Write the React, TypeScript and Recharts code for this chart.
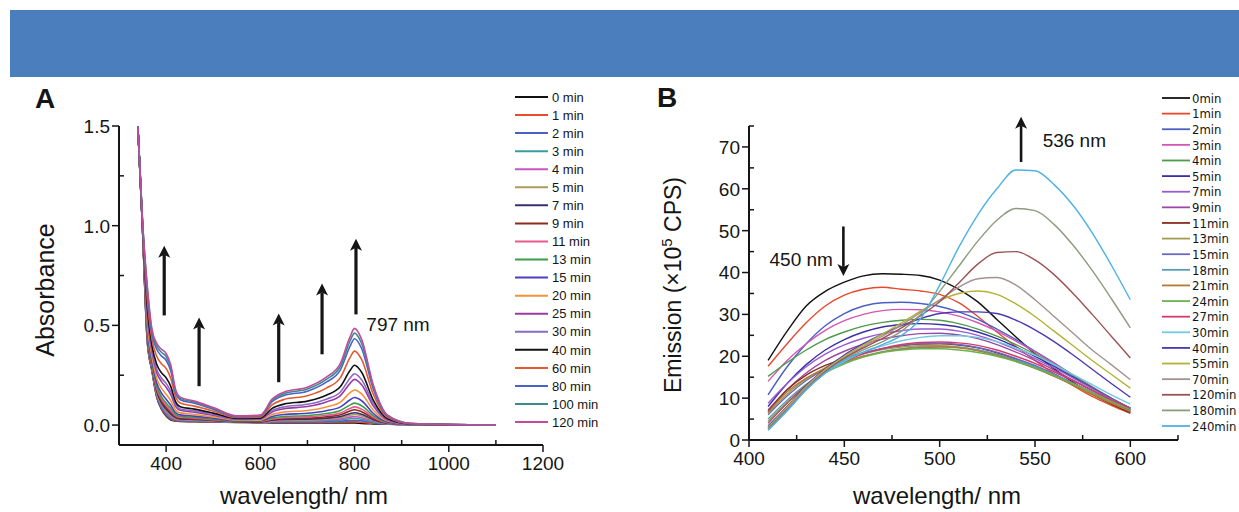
import { LineChart, Line, XAxis, YAxis, ReferenceLine, ReferenceDot } from 'recharts'

const FONT = '"Liberation Sans", Arial, Helvetica, sans-serif'
const NARROW = '"Liberation Sans Narrow", "Arial Narrow", "DejaVu Sans Condensed", "Liberation Sans", sans-serif'
const INK = '#151515'

// ---- panel A: absorbance ----
const absWavelength = [340, 350, 360, 370, 380, 390, 400, 410, 420, 430, 460, 500, 550, 600, 625, 650, 700, 740, 770, 790, 800, 815, 840, 870, 920, 1100]

const absLabels = ['0 min', '1 min', '2 min', '3 min', '4 min', '5 min', '7 min', '9 min', '11 min', '13 min', '15 min', '20 min', '25 min', '30 min', '40 min', '60 min', '80 min', '100 min', '120 min']

const absColors = ['#111111', '#ea4b2c', '#4b5fc4', '#3a9c9c', '#c856c2', '#a89d5c', '#3b2f72', '#8c2b1a', '#ea5b8d', '#3b9c4c', '#4a3fc4', '#f2953a', '#9a3aa4', '#8a6ac4', '#111111', '#e35a30', '#4b62c6', '#3a8c8c', '#c24a9c']

const absValues: number[][] = [
  [1.5, 0.98, 0.42, 0.27, 0.14, 0.08, 0.045, 0.025, 0.02, 0.018, 0.017, 0.015, 0.013, 0.012, 0.011, 0.011, 0.01, 0.01, 0.01, 0.01, 0.01, 0.008, 0.006, 0.004, 0.002, 0],
  [1.5, 0.981, 0.424, 0.273, 0.144, 0.085, 0.05, 0.029, 0.022, 0.02, 0.018, 0.016, 0.014, 0.013, 0.013, 0.013, 0.013, 0.014, 0.015, 0.017, 0.017, 0.014, 0.009, 0.005, 0.002, 0],
  [1.5, 0.981, 0.428, 0.276, 0.148, 0.089, 0.055, 0.033, 0.025, 0.022, 0.02, 0.017, 0.014, 0.013, 0.015, 0.016, 0.015, 0.017, 0.019, 0.023, 0.024, 0.021, 0.012, 0.005, 0.002, 0],
  [1.5, 0.982, 0.434, 0.281, 0.154, 0.095, 0.061, 0.039, 0.028, 0.024, 0.022, 0.019, 0.015, 0.014, 0.017, 0.019, 0.019, 0.022, 0.025, 0.032, 0.034, 0.029, 0.016, 0.006, 0.002, 0],
  [1.5, 0.983, 0.44, 0.285, 0.159, 0.101, 0.067, 0.044, 0.031, 0.027, 0.024, 0.02, 0.015, 0.015, 0.019, 0.022, 0.023, 0.026, 0.031, 0.04, 0.043, 0.037, 0.02, 0.007, 0.002, 0],
  [1.5, 0.984, 0.445, 0.289, 0.164, 0.107, 0.073, 0.05, 0.034, 0.029, 0.026, 0.022, 0.016, 0.015, 0.022, 0.025, 0.026, 0.031, 0.037, 0.049, 0.053, 0.046, 0.024, 0.008, 0.003, 0],
  [1.5, 0.984, 0.451, 0.293, 0.17, 0.113, 0.08, 0.055, 0.038, 0.031, 0.028, 0.023, 0.017, 0.016, 0.024, 0.028, 0.03, 0.035, 0.043, 0.057, 0.062, 0.054, 0.027, 0.009, 0.003, 0],
  [1.5, 0.986, 0.459, 0.299, 0.178, 0.122, 0.089, 0.064, 0.042, 0.035, 0.031, 0.025, 0.018, 0.017, 0.028, 0.033, 0.035, 0.042, 0.052, 0.07, 0.077, 0.067, 0.033, 0.01, 0.003, 0],
  [1.5, 0.987, 0.468, 0.306, 0.186, 0.131, 0.099, 0.072, 0.047, 0.039, 0.035, 0.027, 0.019, 0.019, 0.031, 0.037, 0.041, 0.049, 0.061, 0.083, 0.091, 0.08, 0.039, 0.012, 0.003, 0],
  [1.5, 0.988, 0.479, 0.314, 0.197, 0.143, 0.111, 0.083, 0.054, 0.044, 0.039, 0.03, 0.02, 0.02, 0.036, 0.043, 0.048, 0.058, 0.073, 0.1, 0.11, 0.097, 0.047, 0.014, 0.003, 0],
  [1.5, 0.991, 0.496, 0.327, 0.213, 0.161, 0.13, 0.099, 0.063, 0.051, 0.045, 0.035, 0.022, 0.022, 0.043, 0.053, 0.059, 0.072, 0.091, 0.126, 0.138, 0.122, 0.058, 0.016, 0.004, 0],
  [1.5, 0.994, 0.518, 0.344, 0.235, 0.185, 0.155, 0.121, 0.076, 0.061, 0.053, 0.041, 0.025, 0.025, 0.053, 0.065, 0.073, 0.091, 0.115, 0.161, 0.176, 0.156, 0.074, 0.02, 0.004, 0],
  [1.5, 0.998, 0.549, 0.367, 0.264, 0.218, 0.19, 0.152, 0.094, 0.074, 0.064, 0.049, 0.028, 0.03, 0.066, 0.082, 0.093, 0.116, 0.148, 0.208, 0.229, 0.202, 0.095, 0.025, 0.005, 0],
  [1.5, 1.001, 0.566, 0.379, 0.28, 0.236, 0.209, 0.168, 0.103, 0.081, 0.071, 0.053, 0.03, 0.032, 0.073, 0.091, 0.104, 0.13, 0.166, 0.234, 0.257, 0.227, 0.107, 0.028, 0.005, 0],
  [1.5, 1.004, 0.591, 0.398, 0.305, 0.263, 0.237, 0.193, 0.118, 0.092, 0.08, 0.06, 0.033, 0.035, 0.084, 0.105, 0.12, 0.15, 0.193, 0.272, 0.3, 0.265, 0.124, 0.032, 0.006, 0],
  [1.5, 1.01, 0.633, 0.43, 0.345, 0.308, 0.284, 0.234, 0.142, 0.111, 0.095, 0.071, 0.038, 0.041, 0.101, 0.128, 0.147, 0.185, 0.238, 0.337, 0.371, 0.329, 0.153, 0.039, 0.007, 0],
  [1.5, 1.016, 0.669, 0.457, 0.38, 0.347, 0.325, 0.27, 0.162, 0.127, 0.109, 0.08, 0.042, 0.046, 0.117, 0.148, 0.17, 0.215, 0.277, 0.393, 0.433, 0.384, 0.179, 0.045, 0.007, 0],
  [1.5, 1.018, 0.686, 0.47, 0.397, 0.365, 0.344, 0.286, 0.172, 0.134, 0.115, 0.085, 0.044, 0.048, 0.124, 0.157, 0.181, 0.229, 0.295, 0.419, 0.461, 0.409, 0.19, 0.048, 0.008, 0],
  [1.5, 1.02, 0.7, 0.48, 0.41, 0.38, 0.36, 0.3, 0.18, 0.14, 0.12, 0.088, 0.046, 0.05, 0.13, 0.165, 0.19, 0.24, 0.31, 0.44, 0.485, 0.43, 0.2, 0.05, 0.008, 0],
]

const absXTicks = [300, 400, 500, 600, 700, 800, 900, 1000, 1100, 1200]
const absXMajor = [400, 600, 800, 1000, 1200]
const absYTicks = [0, 0.25, 0.5, 0.75, 1, 1.25, 1.5]
const absYMajor = [0, 0.5, 1, 1.5]

// arrows: [wavelength, from, to]
const absArrows = [
  [396, 0.55, 0.9],
  [470, 0.195, 0.54],
  [639, 0.215, 0.56],
  [731, 0.355, 0.71],
  [803, 0.555, 0.935],
]

// ---- panel B: emission ----
const emWavelength = [410, 420, 430, 440, 450, 460, 470, 480, 490, 500, 510, 520, 530, 540, 550, 560, 570, 580, 590, 600]

const emLabels = ['0min', '1min', '2min', '3min', '4min', '5min', '7min', '9min', '11min', '13min', '15min', '18min', '21min', '24min', '27min', '30min', '40min', '55min', '70min', '120min', '180min', '240min']

const emColors = ['#111111', '#e8482c', '#4a5fc4', '#d257b4', '#4d9c4a', '#3a2fa4', '#9a5ad2', '#9a4aa2', '#8c2a1c', '#a39c4c', '#6a6ac4', '#5a9cb4', '#b27a32', '#6cb24c', '#d23c6c', '#72cae2', '#4a3ab2', '#b4b232', '#a39292', '#9c5252', '#8c9c7c', '#4cb2e2']

const emValues: number[][] = [
  [19, 26, 32, 35.5, 37.7, 39.2, 39.7, 39.6, 39.3, 38.2, 36, 33, 28.8, 24.6, 20.6, 17, 13.8, 11, 8.7, 6.8],
  [17.6, 23, 28, 32, 34.6, 36, 36.5, 36, 35.6, 34.8, 32.8, 29.5, 25.8, 22.3, 19, 15.8, 13, 10.4, 8.3, 6.4],
  [10.8, 17.5, 23, 27.3, 30.2, 32, 32.8, 32.9, 32.6, 31.9, 30.6, 28.8, 26.5, 24, 21.2, 18.4, 15.5, 12.6, 9.9, 7.3],
  [14, 19, 23, 26.2, 28.5, 30, 30.9, 31.2, 31.1, 30.6, 29.6, 28, 26, 23.6, 21, 18.3, 15.5, 12.7, 10, 7.5],
  [15.2, 18.5, 21.5, 24, 25.8, 27.2, 28.1, 28.6, 28.8, 28.6, 27.8, 26.5, 24.8, 22.8, 20.5, 18, 15.3, 12.6, 10, 7.6],
  [8, 13.5, 18, 21.5, 24, 25.8, 27, 27.6, 27.8, 27.6, 27, 25.8, 24.2, 22.2, 20, 17.6, 15, 12.4, 9.9, 7.6],
  [8.8, 13.5, 17.5, 20.5, 22.7, 24.3, 25.4, 26.1, 26.5, 26.5, 26, 25, 23.5, 21.6, 19.5, 17.2, 14.8, 12.3, 9.8, 7.5],
  [7.2, 12, 16, 19, 21.2, 22.9, 24.1, 24.9, 25.4, 25.5, 25.1, 24.2, 22.8, 21, 19, 16.7, 14.3, 11.9, 9.5, 7.3],
  [6.8, 12, 15.5, 17.8, 19.5, 20.8, 21.8, 22.5, 22.9, 23, 22.7, 22, 20.8, 19.3, 17.5, 15.4, 13.2, 10.9, 8.6, 6.4],
  [6.4, 11, 14.6, 17.3, 19.2, 20.6, 21.6, 22.2, 22.5, 22.5, 22.2, 21.5, 20.4, 19, 17.3, 15.3, 13.2, 11, 8.9, 6.9],
  [6, 10.5, 14.2, 17, 19.1, 20.7, 21.8, 22.6, 23, 23.1, 22.8, 22.1, 21, 19.5, 17.8, 15.8, 13.6, 11.4, 9.2, 7.1],
  [5, 9.5, 13.3, 16.2, 18.4, 20, 21.1, 21.8, 22.2, 22.3, 22.1, 21.5, 20.5, 19.1, 17.5, 15.6, 13.5, 11.4, 9.3, 7.4],
  [6.6, 11.5, 14.8, 17, 18.7, 20, 21, 21.7, 22.1, 22.2, 22, 21.3, 20.2, 18.8, 17.1, 15.2, 13.1, 10.9, 8.8, 6.8],
  [4.5, 9, 13, 16, 18.2, 19.8, 20.9, 21.5, 21.8, 21.8, 21.5, 20.9, 20, 18.7, 17.2, 15.4, 13.4, 11.3, 9.2, 7.3],
  [4, 8.8, 13, 16.3, 18.8, 20.6, 21.9, 22.8, 23.3, 23.4, 23.2, 22.6, 21.5, 20, 18.3, 16.3, 14.1, 11.8, 9.6, 7.6],
  [3.5, 8, 12.5, 16, 18.8, 21, 22.5, 23.7, 24.5, 24.9, 24.9, 24.5, 23.5, 22, 20.2, 18, 15.6, 13.2, 10.8, 8.6],
  [3.2, 8, 13, 17, 20.3, 23, 25.3, 27.3, 29, 30.2, 30.6, 30.6, 30.2, 28.6, 26.3, 23.5, 20.3, 16.9, 13.5, 10.2],
  [3, 7.8, 12.8, 16.8, 20, 22.7, 25.3, 28, 30.8, 33.3, 35, 35.6, 34.8, 32.5, 29.5, 26, 22.5, 19, 15.7, 12.4],
  [2.8, 7.5, 12.5, 16.5, 19.7, 22.3, 24.8, 27.5, 30.5, 33.5, 36.5, 38.5, 38.8, 37, 33.5, 29.5, 25.5, 21.5, 18, 14.4],
  [2.6, 7.2, 12.2, 16.3, 19.5, 22, 24.3, 26.8, 29.7, 33, 37.5, 42, 44.8, 45, 43, 39.5, 35, 30, 24.8, 19.6],
  [2.5, 7, 12, 16, 19.2, 21.5, 23.5, 26, 30, 35.5, 41.5, 47.5, 52.5, 55.3, 54.8, 51.5, 46.5, 40.5, 33.8, 26.8],
  [2.3, 7, 12, 16, 19, 21, 22.8, 25, 29, 37, 46, 53.8, 60, 64.5, 64.3, 61, 56, 49.5, 41.8, 33.5],
]

const emXTicks = [400, 425, 450, 475, 500, 525, 550, 575, 600, 625]
const emXMajor = [400, 450, 500, 550, 600]
const emYTicks = [0, 5, 10, 15, 20, 25, 30, 35, 40, 45, 50, 55, 60, 65, 70, 75]
const emYMajor = [0, 10, 20, 30, 40, 50, 60, 70]

const emArrows = [
  [449.5, 51, 39.2],
  [542.7, 66.4, 77.2],
]

// ---- helpers ----
const absRows = absWavelength.map((w, i) => {
  const row: Record<string, number> = { w }
  absValues.forEach((vals, k) => {
    row[`a${k}`] = vals[i]
  })
  return row
})

const emRows = emWavelength.map((w, i) => {
  const row: Record<string, number> = { w }
  emValues.forEach((vals, k) => {
    row[`e${k}`] = vals[i]
  })
  return row
})

const AXIS = { stroke: INK, strokeWidth: 2 }

function xTick(major: number[], fmt: (v: number) => string) {
  return (props: any) => {
    const { x, y, payload } = props
    const v = payload.value
    if (!major.includes(v)) {
      return <line x1={x} x2={x} y1={y} y2={y - 5} stroke={INK} strokeWidth={1.5} />
    }
    return (
      <g>
        <line x1={x} x2={x} y1={y} y2={y + 7} stroke={INK} strokeWidth={1.5} />
        <text x={x} y={y + 25} textAnchor="middle" fontSize={19} fontFamily={FONT} fill={INK}>
          {fmt(v)}
        </text>
      </g>
    )
  }
}

function yTick(major: number[], fmt: (v: number) => string) {
  return (props: any) => {
    const { x, y, payload } = props
    const v = payload.value
    if (!major.includes(v)) {
      return <line x1={x} x2={x + 5} y1={y} y2={y} stroke={INK} strokeWidth={1.5} />
    }
    return (
      <g>
        <line x1={x - 7} x2={x} y1={y} y2={y} stroke={INK} strokeWidth={1.5} />
        <text x={x - 9} y={y} dy="0.36em" textAnchor="end" fontSize={19} fontFamily={FONT} fill={INK}>
          {fmt(v)}
        </text>
      </g>
    )
  }
}

function Arrow(props: any) {
  const { x1, y1, x2, y2, width = 3 } = props
  const dir = y2 < y1 ? 1 : -1 // 1 = pointing up
  const head = 12
  const half = 6
  return (
    <g>
      <line x1={x1} x2={x2} y1={y1} y2={y2 + dir * (head - 3)} stroke={INK} strokeWidth={width} />
      <path
        d={`M${x2},${y2} L${x2 - half},${y2 + dir * head} L${x2},${y2 + dir * (head - 3)} L${x2 + half},${y2 + dir * head} Z`}
        fill={INK}
      />
    </g>
  )
}

const noteStyle = { fontSize: 19, fill: INK, fontFamily: FONT }

export default function App() {
  return (
    <div style={{ position: 'absolute', left: 0, top: 0, width: 1239, height: 512, background: '#fff', overflow: 'hidden' }}>
      <div style={{ position: 'absolute', left: 10, top: 10, width: 1229, height: 67, background: '#4a7ebd' }} />

      <div style={{ position: 'absolute', left: 0, top: 0 }}>
        <LineChart width={600} height={512} data={absRows} margin={{ top: 126, right: 57, bottom: 0, left: 0 }}>
          <XAxis
            dataKey="w"
            type="number"
            domain={[300, 1200]}
            allowDataOverflow
            ticks={absXTicks}
            interval={0}
            tickLine={false}
            tickSize={0}
            tickMargin={0}
            height={67}
            axisLine={AXIS}
            tick={xTick(absXMajor, (v) => String(v))}
          />
          <YAxis
            type="number"
            domain={[-0.1, 1.5]}
            allowDataOverflow
            ticks={absYTicks}
            interval={0}
            tickLine={false}
            tickSize={0}
            tickMargin={0}
            width={119}
            axisLine={AXIS}
            tick={yTick(absYMajor, (v) => v.toFixed(1))}
          />
          {absLabels.map((l, k) => (
            <Line
              key={l}
              type="monotone"
              dataKey={`a${k}`}
              name={l}
              stroke={absColors[k]}
              strokeWidth={1.6}
              dot={false}
              isAnimationActive={false}
            />
          ))}
          {absArrows.map(([w, from, to], i) => (
            <ReferenceLine
              key={i}
              segment={[{ x: w, y: from }, { x: w, y: to }]}
              ifOverflow="visible"
              shape={(p: any) => <Arrow {...p} width={3.2} />}
            />
          ))}
          <ReferenceDot
            x={825}
            y={0.506}
            r={0}
            fill="none"
            stroke="none"
            ifOverflow="visible"
            label={{ value: '797 nm', position: 'right', offset: 0, ...noteStyle }}
          />
        </LineChart>
      </div>

      <div style={{ position: 'absolute', left: 640, top: 0 }}>
        <LineChart width={560} height={512} data={emRows} margin={{ top: 126, right: 22, bottom: 0, left: 0 }}>
          <XAxis
            dataKey="w"
            type="number"
            domain={[400, 625]}
            allowDataOverflow
            ticks={emXTicks}
            interval={0}
            tickLine={false}
            tickSize={0}
            tickMargin={0}
            height={72}
            axisLine={AXIS}
            tick={xTick(emXMajor, (v) => String(v))}
          />
          <YAxis
            type="number"
            domain={[0, 75]}
            allowDataOverflow
            ticks={emYTicks}
            interval={0}
            tickLine={false}
            tickSize={0}
            tickMargin={0}
            width={109}
            axisLine={AXIS}
            tick={yTick(emYMajor, (v) => String(v))}
          />
          {emLabels.map((l, k) => (
            <Line
              key={l}
              type="monotone"
              dataKey={`e${k}`}
              name={l}
              stroke={emColors[k]}
              strokeWidth={1.4}
              dot={false}
              isAnimationActive={false}
            />
          ))}
          {emArrows.map(([w, from, to], i) => (
            <ReferenceLine
              key={i}
              segment={[{ x: w, y: from }, { x: w, y: to }]}
              ifOverflow="visible"
              shape={(p: any) => <Arrow {...p} width={2.6} />}
            />
          ))}
          <ReferenceDot
            x={444}
            y={43.2}
            r={0}
            fill="none"
            stroke="none"
            ifOverflow="visible"
            label={{ value: '450 nm', position: 'left', offset: 0, ...noteStyle }}
          />
          <ReferenceDot
            x={554}
            y={71.6}
            r={0}
            fill="none"
            stroke="none"
            ifOverflow="visible"
            label={{ value: '536 nm', position: 'right', offset: 0, ...noteStyle }}
          />
        </LineChart>
      </div>

      <svg width={1239} height={512} style={{ position: 'absolute', left: 0, top: 0, pointerEvents: 'none' }}>
        <text x={35} y={108} fontSize={28} fontWeight="bold" fontFamily={FONT} fill={INK}>A</text>
        <text x={657} y={107} fontSize={28} fontWeight="bold" fontFamily={FONT} fill={INK}>B</text>

        <text transform="translate(54,290) rotate(-90)" textAnchor="middle" fontSize={25} fontFamily={FONT} fill={INK}>
          Absorbance
        </text>
        <text x={304} y={504} textAnchor="middle" fontSize={24} fontFamily={FONT} fill={INK}>
          wavelength/ nm
        </text>

        <text transform="translate(681,285) rotate(-90)" textAnchor="middle" fontSize={23} fontFamily={FONT} fill={INK}>
          Emission (×10<tspan dy={-9} fontSize={15}>5</tspan>
          <tspan dy={9}> CPS)</tspan>
        </text>
        <text x={937} y={504} textAnchor="middle" fontSize={24} fontFamily={FONT} fill={INK}>
          wavelength/ nm
        </text>

        {absLabels.map((l, k) => {
          const cy = 97 + k * 18.06
          return (
            <g key={l}>
              <line x1={515} x2={548} y1={cy} y2={cy} stroke={absColors[k]} strokeWidth={2} />
              <text x={552} y={cy} dy="0.36em" fontSize={13} fontFamily={FONT} fill={INK}>
                {l}
              </text>
            </g>
          )
        })}

        {emLabels.map((l, k) => {
          const cy = 98 + k * 15.62
          return (
            <g key={l}>
              <line x1={1162} x2={1190} y1={cy} y2={cy} stroke={emColors[k]} strokeWidth={1.8} />
              <text x={1192} y={cy} dy="0.36em" fontSize={13} fontFamily={NARROW} fill={INK}>
                {l}
              </text>
            </g>
          )
        })}
      </svg>
    </div>
  )
}
